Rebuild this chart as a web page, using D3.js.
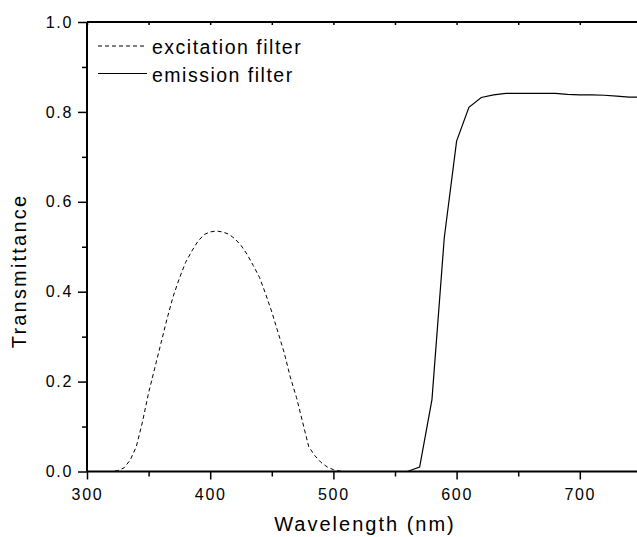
<!DOCTYPE html>
<html>
<head>
<meta charset="utf-8">
<script src="https://cdn.jsdelivr.net/npm/d3@7"></script>
<style>
  body { margin: 0; background: #fff; }
  text { font-family: "Liberation Sans", Arial, sans-serif; fill: #000; }
</style>
</head>
<body>
<div id="content"></div>
<script>
var width = 637;
var height = 537;

// excitation filter (dashed)
var excWavelength = [300, 320, 325, 330, 335, 340, 345, 350, 355, 360, 365, 370, 375, 380, 385, 390, 395, 400, 405, 410,
    415, 420, 425, 430, 435, 440, 445, 450, 455, 460, 465, 470, 475, 480, 485, 490, 495, 500, 505, 510, 560];
var excTrans = [0, 0, 0.002, 0.008, 0.025, 0.055, 0.11, 0.175, 0.23, 0.285, 0.34, 0.39, 0.43, 0.465, 0.49, 0.512, 0.527, 0.533, 0.535, 0.533,
    0.528, 0.518, 0.503, 0.483, 0.458, 0.432, 0.395, 0.355, 0.31, 0.265, 0.21, 0.165, 0.11, 0.055, 0.035, 0.02, 0.01, 0.004, 0.001, 0, 0];

// emission filter (solid)
var emWavelength = [500, 560, 570, 580, 590, 600, 610, 620, 630, 640, 650, 660, 670, 680, 690, 700, 710, 720, 730, 740, 750];
var emTrans = [0, 0, 0.01, 0.16, 0.52, 0.735, 0.81, 0.832, 0.838, 0.841, 0.841, 0.841, 0.841, 0.841, 0.839, 0.838, 0.838, 0.837, 0.835, 0.833, 0.833];

var xTicks = [300, 400, 500, 600, 700];
var yTicks = [0, 0.2, 0.4, 0.6, 0.8, 1.0];
var legendLabels = ["excitation filter", "emission filter"];

var margin = { top: 22, left: 87 };
var plotBottom = 471.5;

var x = d3.scaleLinear().domain([300, 750]).range([margin.left, margin.left + 4.5 * 123.2]);
var y = d3.scaleLinear().domain([0, 1]).range([plotBottom, margin.top]);

var svg = d3.select("#content").append("svg").attr("width", width).attr("height", height);

var line = d3.line().x(d => x(d[0])).y(d => y(d[1]));

svg.append("path")
    .datum(d3.zip(excWavelength, excTrans))
    .attr("d", line)
    .attr("fill", "none")
    .attr("stroke", "#000")
    .attr("stroke-width", 1)
    .attr("stroke-dasharray", "4,3");

svg.append("path")
    .datum(d3.zip(emWavelength, emTrans))
    .attr("d", line)
    .attr("fill", "none")
    .attr("stroke", "#000")
    .attr("stroke-width", 1.2);

// bottom axis
var xAxis = svg.append("g")
    .attr("transform", `translate(0, ${plotBottom})`)
    .call(d3.axisBottom(x).tickValues(xTicks).tickSize(8).tickPadding(9).tickFormat(d3.format("d")));
xAxis.append("g").call(d3.axisBottom(x).tickValues(d3.range(350, 750, 100)).tickSize(5).tickFormat(""));

// top axis
var xTop = svg.append("g")
    .attr("transform", `translate(0, ${margin.top})`)
    .call(d3.axisBottom(x).tickValues(d3.range(300, 751, 50)).tickSize(3).tickFormat(""));

// left axis
var yAxis = svg.append("g")
    .attr("transform", `translate(${margin.left}, 0)`)
    .call(d3.axisLeft(y).tickValues(yTicks).tickSize(9).tickPadding(5).tickFormat(d3.format(".1f")));
yAxis.append("g").call(d3.axisLeft(y).tickValues([0.1, 0.3, 0.5, 0.7, 0.9]).tickSize(5).tickFormat(""));

svg.selectAll(".domain").attr("stroke-width", 2).attr("d", null);
xAxis.select(".domain").attr("d", `M${margin.left},0H${width}`);
xTop.select(".domain").attr("d", `M${margin.left},0H${width}`);
yAxis.select(".domain").attr("d", `M0,${margin.top}V${plotBottom}`);
svg.selectAll(".tick line").attr("stroke-width", 1.5);
svg.selectAll(".tick text").style("font-size", "16px").style("letter-spacing", "1.7px").style("font-family", '"Liberation Sans", Arial, sans-serif');

svg.append("text")
    .attr("x", 365)
    .attr("y", 531)
    .attr("text-anchor", "middle")
    .style("font-size", "20px")
    .style("letter-spacing", "2px")
    .text("Wavelength (nm)");

svg.append("text")
    .attr("transform", "translate(26, 271) rotate(-90)")
    .attr("text-anchor", "middle")
    .style("font-size", "20px")
    .style("letter-spacing", "2.2px")
    .text("Transmittance");

// legend
var legend = svg.append("g").attr("transform", "translate(98, 46)");
legendLabels.forEach(function (label, i) {
    legend.append("line")
        .attr("x1", 0).attr("x2", 49)
        .attr("y1", i * 27.5).attr("y2", i * 27.5)
        .attr("stroke", "#000")
        .attr("stroke-width", 1)
        .attr("stroke-dasharray", i === 0 ? "4,3" : null);
    legend.append("text")
        .attr("x", 54)
        .attr("y", i * 27.5 + 8)
        .style("font-size", "19.5px")
        .style("letter-spacing", "1.5px")
        .text(label);
});
</script>
</body>
</html>
